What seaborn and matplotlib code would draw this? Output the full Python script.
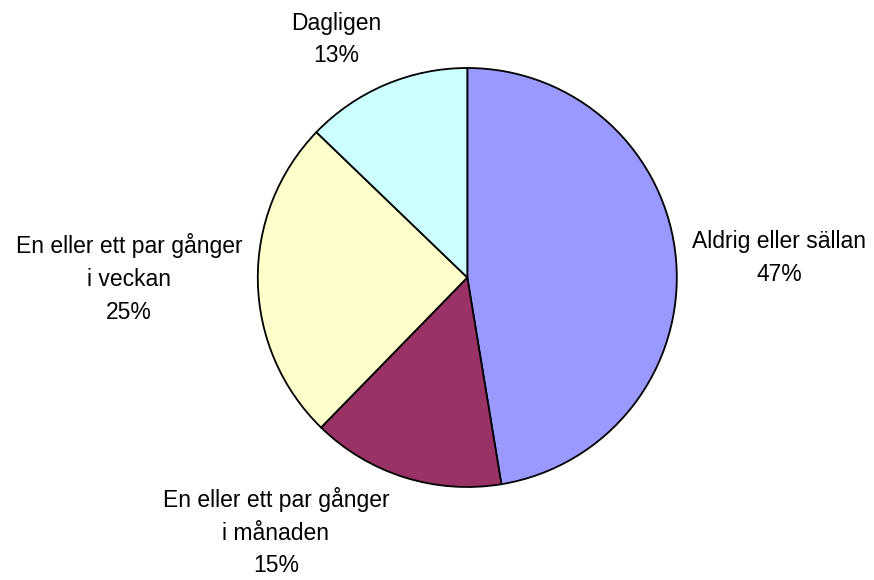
import matplotlib
matplotlib.use("Agg")
import matplotlib.pyplot as plt
import seaborn as sns

# data (andelar i procent, avlästa från tårtbitarna)
kategorier = ["Aldrig eller sällan",
              "En eller ett par gånger\ni månaden",
              "En eller ett par gånger\ni veckan",
              "Dagligen"]
andel = [47.4, 14.9, 24.9, 12.8]
farger = ["#9999FF", "#993366", "#FFFFCC", "#CCFFFF"]

# etiketternas placering (dataenheter, radie = 1)
etikett_pos = [(1.488, 0.093), (-0.914, -1.215), (-1.614, -0.005), (-0.624, 1.136)]

sns.set_theme(style="white")
plt.rcParams['font.family'] = ['Liberation Sans', 'DejaVu Sans']

fig = plt.figure(figsize=(8.74, 5.8), dpi=100)
r = 209.5
ax = fig.add_axes([(467.3 - r) / 874, (302.5 - r) / 580, 2 * r / 874, 2 * r / 580])

etiketter = [f"{k}\n{round(v)}%" for k, v in zip(kategorier, andel)]
wedges, texts = ax.pie(andel, labels=etiketter, colors=farger, startangle=90,
                       counterclock=False,
                       wedgeprops=dict(edgecolor="black", linewidth=1.3))

for t, (x, y) in zip(texts, etikett_pos):
    t.set_position((x, y))
    t.set_ha("center")
    t.set_va("center")
    t.set_fontsize(16.5)
    t.set_linespacing(1.55)
    t.set_color("black")

ax.set_xlim(-1.0, 1.0)
ax.set_ylim(-1.0, 1.0)
ax.set_aspect("equal")
ax.axis("off")

fig.savefig("out.png", dpi=100, facecolor="white")
